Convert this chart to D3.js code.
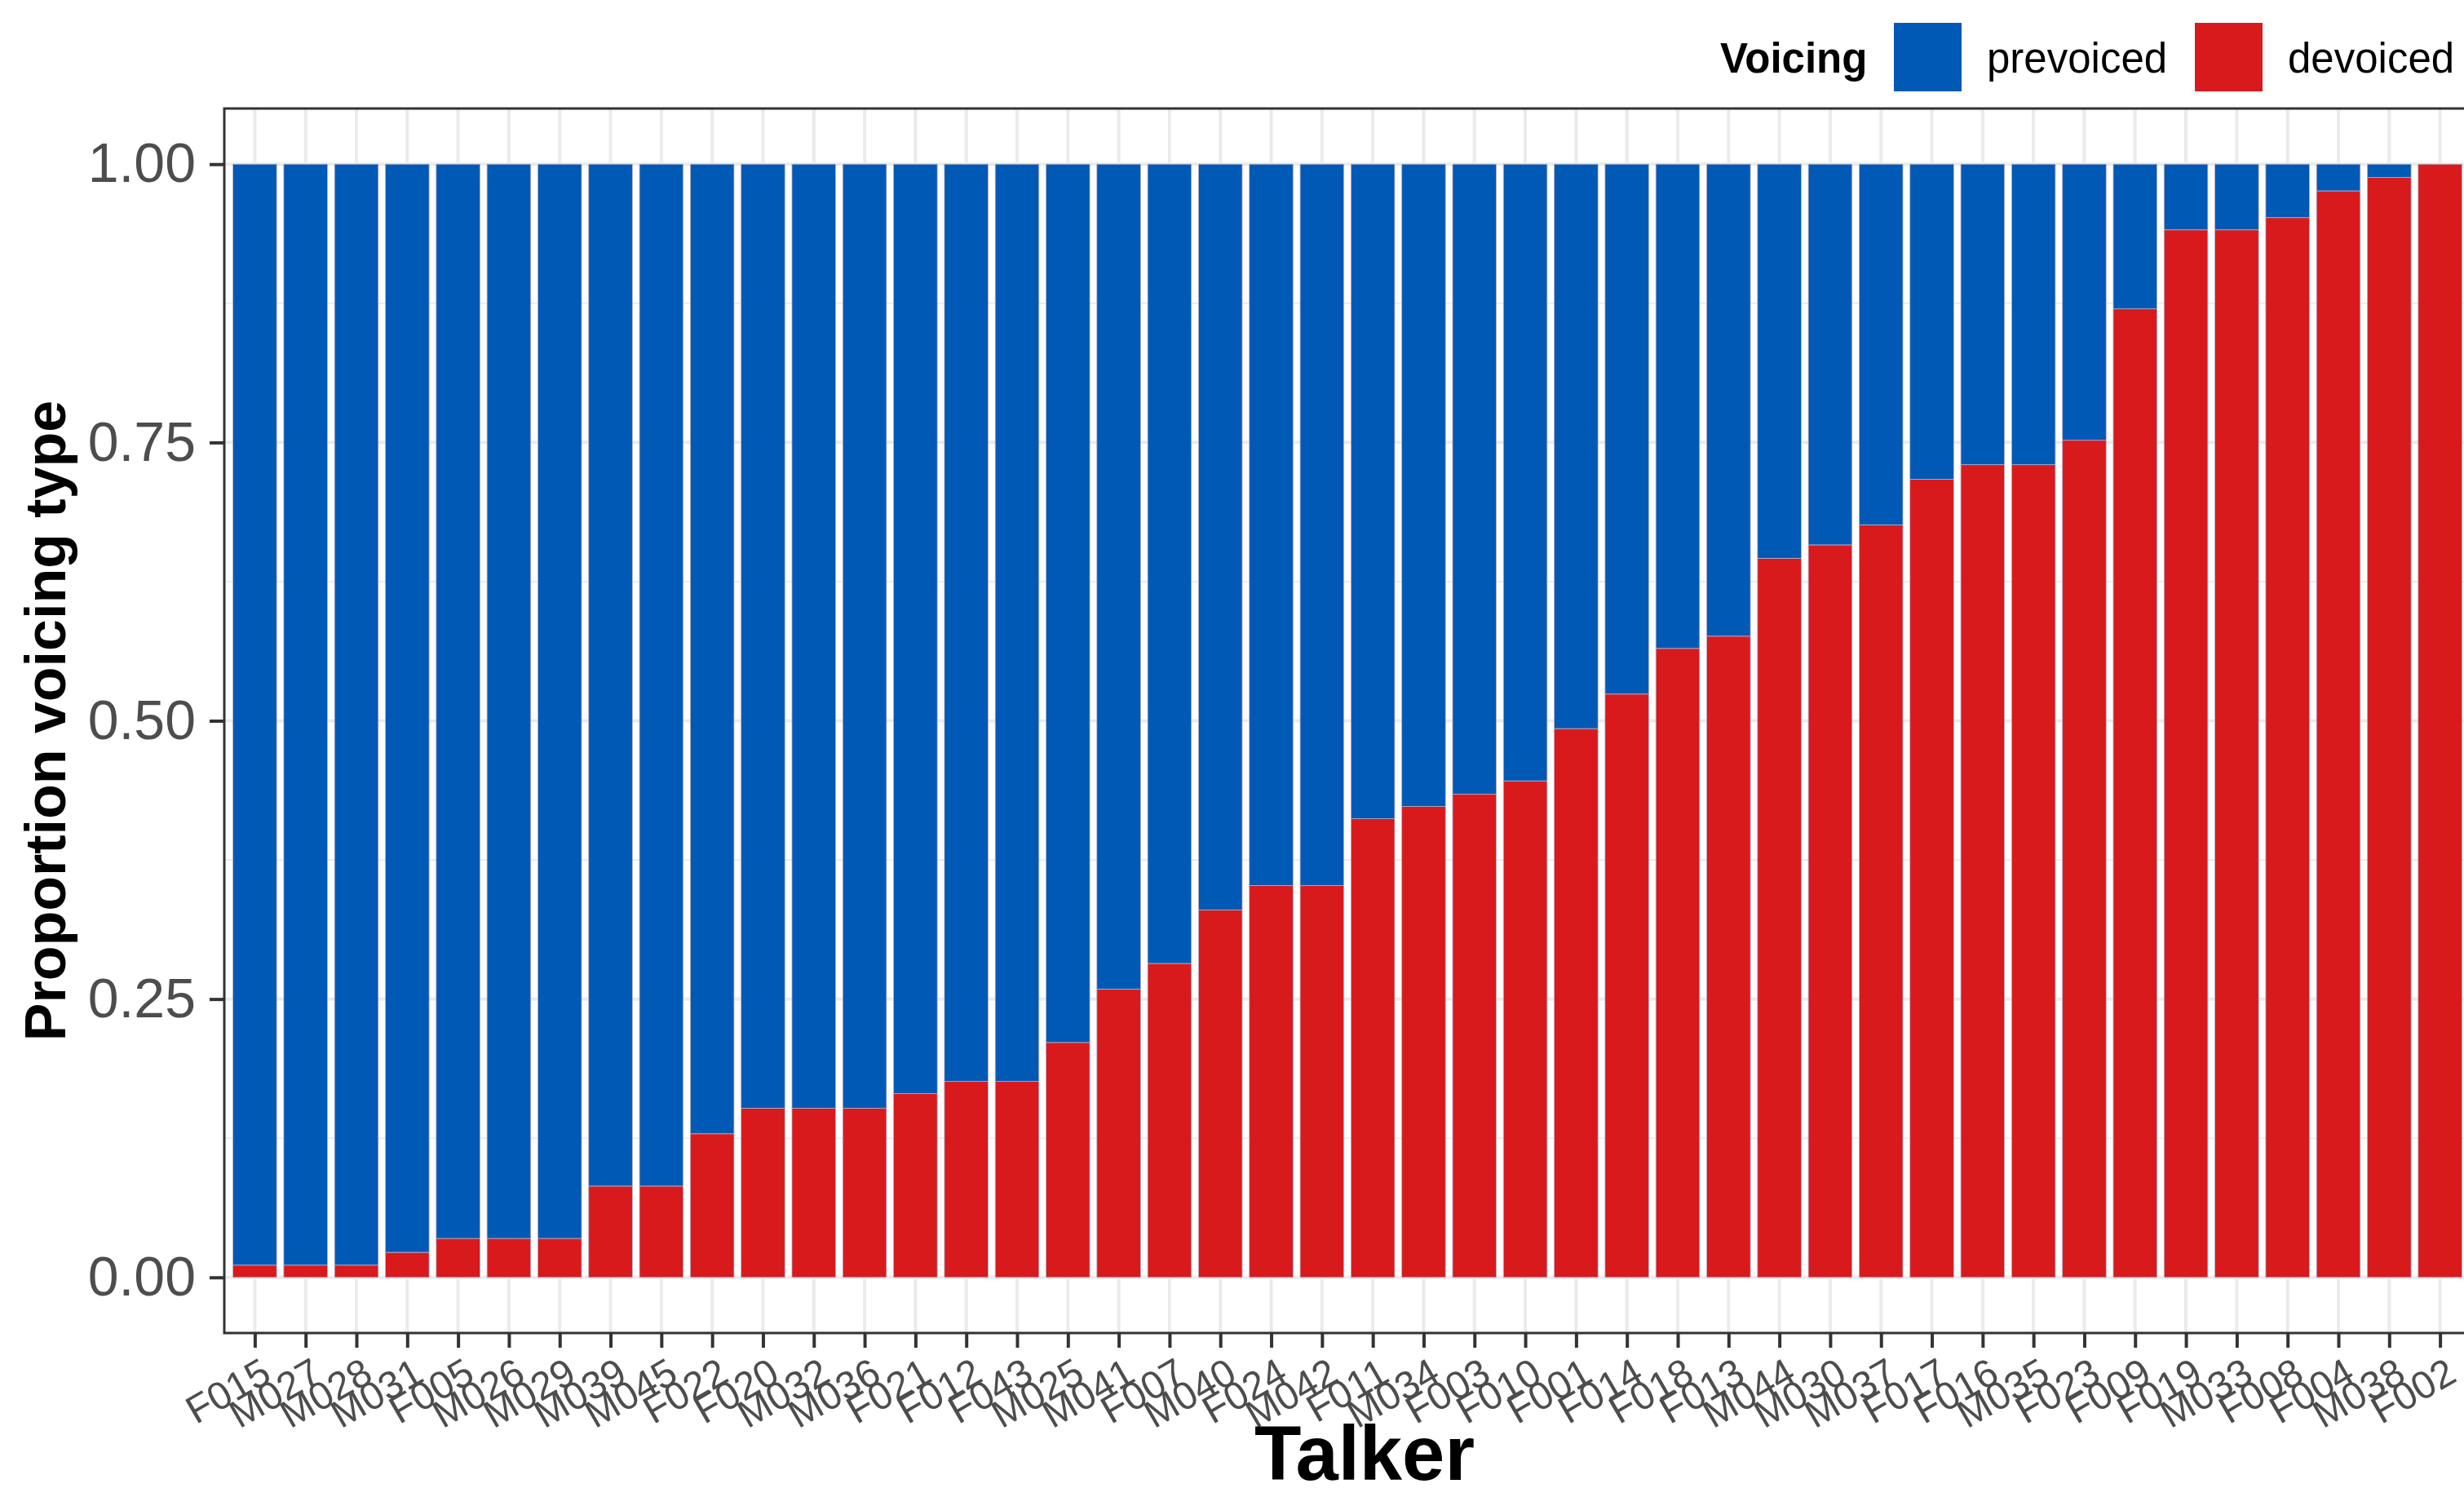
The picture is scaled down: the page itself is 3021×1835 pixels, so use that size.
<!DOCTYPE html>
<html>
<head>
    <meta charset="UTF-8">
    <title>Proportion voicing type by talker</title>
    <script src="https://d3js.org/d3.v7.min.js"></script>
    <style>
        body { margin: 0; background: #fff; font-family: "Liberation Sans", Arial, sans-serif; }
        svg { display: block; }
    </style>
</head>
<body>
<div id="chart"></div>
<script type="text/javascript">
    // talkers, in plotted order
    const talkers = ["F015", "M027", "M028", "M031", "F005", "M026", "M029", "M039", "M045", "F022",
        "F020", "M032", "M036", "F021", "F012", "F043", "M025", "M041", "F007", "M040",
        "F024", "M042", "F011", "M034", "F003", "F010", "F001", "F014", "F018", "F013",
        "M044", "M030", "M037", "F017", "F016", "M035", "F023", "F009", "F019", "M033",
        "F008", "F004", "M038", "F002"];

    // proportion devoiced per talker (prevoiced is the rest)
    const devoiced = [0.011, 0.011, 0.011, 0.0225, 0.035, 0.035, 0.035, 0.082, 0.082, 0.129,
        0.152, 0.152, 0.152, 0.165, 0.176, 0.176, 0.211, 0.259, 0.282, 0.330,
        0.352, 0.352, 0.412, 0.423, 0.434, 0.446, 0.493, 0.524, 0.565, 0.576,
        0.646, 0.658, 0.676, 0.717, 0.730, 0.730, 0.752, 0.870, 0.941, 0.941,
        0.952, 0.976, 0.988, 1.0];

    const voicingTypes = ["prevoiced", "devoiced"];
    const voicingColors = ["#0059B5", "#D81A1D"];
    const yTicks = [0, 0.25, 0.5, 0.75, 1];
    const yMinor = [0.125, 0.375, 0.625, 0.875];

    const W = 3021, H = 1835;
    const panel = { left: 275, top: 133, right: 3029, bottom: 1634 };

    const svg = d3.select("#chart").append("svg")
        .attr("width", W)
        .attr("height", H);

    const x = d3.scalePoint()
        .domain(talkers)
        .range([panel.left, panel.right])
        .padding(0.6);

    const y = d3.scaleLinear()
        .domain([-0.05, 1.05])
        .range([panel.bottom, panel.top]);

    const colour = d3.scaleOrdinal().domain(voicingTypes).range(voicingColors);

    const barW = x.step() * 0.86;

    // grid
    const grid = svg.append("g");
    grid.selectAll(".minor").data(yMinor).join("line")
        .attr("x1", panel.left).attr("x2", panel.right)
        .attr("y1", d => y(d)).attr("y2", d => y(d))
        .attr("stroke", "#EBEBEB").attr("stroke-width", 2);
    grid.selectAll(".major").data(yTicks).join("line")
        .attr("x1", panel.left).attr("x2", panel.right)
        .attr("y1", d => y(d)).attr("y2", d => y(d))
        .attr("stroke", "#EBEBEB").attr("stroke-width", 4);
    grid.selectAll(".vgrid").data(talkers).join("line")
        .attr("x1", d => x(d)).attr("x2", d => x(d))
        .attr("y1", panel.top).attr("y2", panel.bottom)
        .attr("stroke", "#EBEBEB").attr("stroke-width", 4);

    // stacked bars: devoiced on the bottom, prevoiced on top
    const rows = talkers.map((t, i) => ({ talker: t, devoiced: devoiced[i], prevoiced: 1 - devoiced[i] }));
    const stack = d3.stack().keys(["devoiced", "prevoiced"]);
    const layers = stack(rows);

    svg.append("g").selectAll("g").data(layers).join("g")
        .attr("fill", d => colour(d.key))
        .selectAll("rect").data(d => d).join("rect")
        .attr("x", d => x(d.data.talker) - barW / 2)
        .attr("width", barW)
        .attr("y", d => y(d[1]))
        .attr("height", d => y(d[0]) - y(d[1]))
        .attr("stroke", "#b8b0c8")
        .attr("stroke-width", 0.8);

    // panel border
    svg.append("rect")
        .attr("x", panel.left).attr("y", panel.top)
        .attr("width", panel.right - panel.left)
        .attr("height", panel.bottom - panel.top)
        .attr("fill", "none")
        .attr("stroke", "#333333")
        .attr("stroke-width", 3);

    // y axis
    const yAxis = svg.append("g")
        .attr("transform", `translate(${panel.left},0)`)
        .call(d3.axisLeft(y).tickValues(yTicks).tickFormat(d3.format(".2f")).tickSize(18).tickPadding(17));
    yAxis.select(".domain").remove();
    yAxis.selectAll(".tick line").attr("stroke", "#333333").attr("stroke-width", 4);
    yAxis.selectAll(".tick text")
        .attr("fill", "#4D4D4D")
        .style("font-family", "Liberation Sans, Arial, sans-serif")
        .style("font-size", "68px");

    // x axis
    const xAxis = svg.append("g")
        .attr("transform", `translate(0,${panel.bottom})`)
        .call(d3.axisBottom(x).tickSize(18).tickPadding(0));
    xAxis.select(".domain").remove();
    xAxis.selectAll(".tick line").attr("stroke", "#333333").attr("stroke-width", 4);
    xAxis.selectAll(".tick text")
        .attr("fill", "#4D4D4D")
        .attr("text-anchor", "end")
        .attr("dominant-baseline", "hanging")
        .attr("dy", null)
        .attr("y", null)
        .attr("transform", "translate(5,28) rotate(-30)")
        .style("font-family", "Liberation Sans, Arial, sans-serif")
        .style("font-size", "48px");

    // axis titles
    svg.append("text")
        .attr("x", 1673)
        .attr("y", 1814)
        .attr("text-anchor", "middle")
        .style("font-size", "94px")
        .style("font-weight", "bold")
        .text("Talker");

    svg.append("text")
        .attr("transform", `translate(80,${(panel.top + panel.bottom) / 2}) rotate(-90)`)
        .attr("text-anchor", "middle")
        .style("font-size", "70px")
        .style("font-weight", "bold")
        .text("Proportion voicing type");

    // legend
    const legend = svg.append("g");
    legend.append("text")
        .attr("x", 2109).attr("y", 89)
        .style("font-size", "51px")
        .style("font-weight", "bold")
        .text("Voicing");
    const keyX = [2322, 2691];
    voicingTypes.forEach((v, i) => {
        legend.append("rect")
            .attr("x", keyX[i]).attr("y", 28)
            .attr("width", 83).attr("height", 84)
            .attr("fill", colour(v));
        legend.append("text")
            .attr("x", keyX[i] + 114).attr("y", 89)
            .style("font-size", "51px")
            .text(v);
    });
</script>
</body>
</html>
